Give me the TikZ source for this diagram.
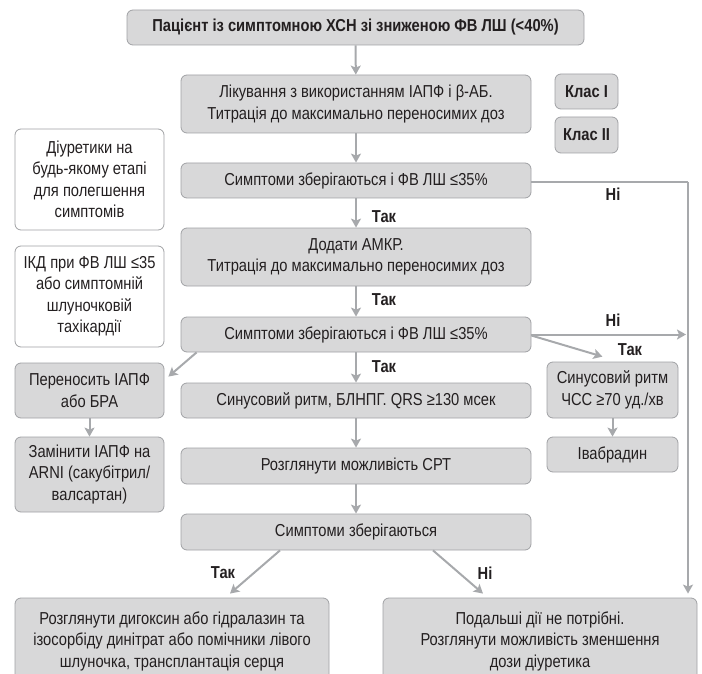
\documentclass[tikz,border=0pt]{standalone}
\usepackage{fontspec}
\setmainfont[FakeStretch=0.85]{Liberation Sans}
\usetikzlibrary{arrows.meta}
\definecolor{boxfill}{RGB}{216,216,217}
\definecolor{boxline}{RGB}{160,161,164}
\definecolor{arrline}{RGB}{167,169,172}
\definecolor{txt}{RGB}{35,31,32}
\begin{document}
\begin{tikzpicture}[x=1pt,y=-1pt,
	box/.style={draw=boxline,fill=boxfill,rounded corners=6pt,line width=0.8pt,align=center,text=txt,inner sep=0pt,font=\fontsize{17.3}{21.5}\selectfont},
	wbox/.style={box,fill=white},
	arr/.style={draw=arrline,line width=2pt,-{Stealth[length=9pt,width=10pt,inset=2pt]}},
	lab/.style={text=txt,inner sep=0pt,font=\bfseries\fontsize{17.3}{21.5}\selectfont}]
	\useasboundingbox (0,0) rectangle (702,674);
	%方框
	\node[box,minimum width=457pt,minimum height=35pt,font=\bfseries\fontsize{17.3}{21.5}\selectfont] (top) at (355.5,27.5) {Пацієнт із симптомною ХСН зі зниженою ФВ ЛШ (<40\%)};
	\node[box,minimum width=350pt,minimum height=58pt] (treat) at (356,104) {Лікування з використанням ІАПФ і β-АБ.\\Титрація до максимально переносимих доз};
	\node[box,minimum width=63pt,minimum height=35pt,font=\bfseries\fontsize{17.3}{21.5}\selectfont] (klasA) at (586.5,91.5) {Клас I};
	\node[box,minimum width=63pt,minimum height=36pt,font=\bfseries\fontsize{17.3}{21.5}\selectfont] (klasB) at (586.5,135) {Клас II};
	\node[wbox,minimum width=149pt,minimum height=101pt] (diur) at (89.5,179.5) {Діуретики на\\будь-якому етапі\\для полегшення\\симптомів};
	\node[box,minimum width=350pt,minimum height=35pt] (sympA) at (356,180.5) {Симптоми зберігаються і ФВ ЛШ ≤35\%};
	\node[box,minimum width=350pt,minimum height=58pt] (amkr) at (356,257) {Додати АМКР.\\Титрація до максимально переносимих доз};
	\node[wbox,minimum width=149pt,minimum height=101pt] (icd) at (89.5,296.5) {ІКД при ФВ ЛШ ≤35\\або симптомній\\шлуночковій\\тахікардії};
	\node[box,minimum width=350pt,minimum height=35pt] (sympB) at (356,334.5) {Симптоми зберігаються і ФВ ЛШ ≤35\%};
	\node[box,minimum width=149pt,minimum height=55pt] (intol) at (89.5,390.5) {Переносить ІАПФ\\або БРА};
	\node[box,minimum width=350pt,minimum height=35pt] (sinC) at (356,400.5) {Синусовий ритм, БЛНПГ. QRS ≥130 мсек};
	\node[box,minimum width=131pt,minimum height=56pt] (sinR) at (612.5,390) {Синусовий ритм\\ЧСС ≥70 уд./хв};
	\node[box,minimum width=131pt,minimum height=35pt] (ivab) at (612.5,454.5) {Івабрадин};
	\node[box,minimum width=149pt,minimum height=75pt] (arni) at (89.5,474.5) {Замінити ІАПФ на\\ARNI (сакубітрил/\\валсартан)};
	\node[box,minimum width=350pt,minimum height=36pt] (crt) at (356,466) {Розглянути можливість СРТ};
	\node[box,minimum width=350pt,minimum height=36pt] (keep) at (356,532) {Симптоми зберігаються};
	\node[box,minimum width=314pt,minimum height=86pt] (botL) at (172,641) {Розглянути дигоксин або гідралазин та\\ізосорбіду динітрат або помічники лівого\\шлуночка, трансплантація серця};
	\node[box,minimum width=314pt,minimum height=86pt] (botR) at (540,641) {Подальші дії не потрібні.\\Розглянути можливість зменшення\\дози діуретика};
	%箭头
	\coordinate (rx) at (688,182);
	\draw[arr] (top) -- (treat);
	\draw[arr] (treat) -- (sympA);
	\draw[arr] (sympA) -- (amkr);
	\draw[arr] (amkr) -- (sympB);
	\draw[arr] (sympB) -- (sinC);
	\draw[arr] (sinC) -- (crt);
	\draw[arr] (crt) -- (keep);
	\draw[arr] (intol) -- (arni);
	\draw[arr] (sinR) -- (ivab);
	\draw[arr,-] (sympA.east |- rx) -- (rx);
	\draw[arr] (rx) -- ([yshift=4pt]rx |- botR.north);
	\draw[arr] (sympB.east) -- ([xshift=-2pt]sympB.east -| rx);
	\draw[arr] ([yshift=-1pt]sympB.east) -- ([xshift=-10pt,yshift=5pt]sinR.north);
	\draw[arr] ([xshift=16pt]sympB.south west) -- ([xshift=4pt,yshift=-14pt]intol.north east);
	\draw[arr] ([xshift=-76pt]keep.south) -- ([xshift=58pt,yshift=4pt]botL.north);
	\draw[arr] ([xshift=77pt]keep.south) -- ([xshift=-57pt,yshift=4pt]botR.north);
	%标签
	\node[lab] (yesA) at (384,217) {Так};
	\node[lab] (noA) at (613,194) {Ні};
	\node[lab] (yesB) at (384,300) {Так};
	\node[lab] (noB) at (613,320) {Ні};
	\node[lab] (yesC) at (630,350) {Так};
	\node[lab] (yesD) at (384,367) {Так};
	\node[lab] (yesE) at (223,573) {Так};
	\node[lab] (noE) at (485,573) {Ні};
\end{tikzpicture}
\end{document}
